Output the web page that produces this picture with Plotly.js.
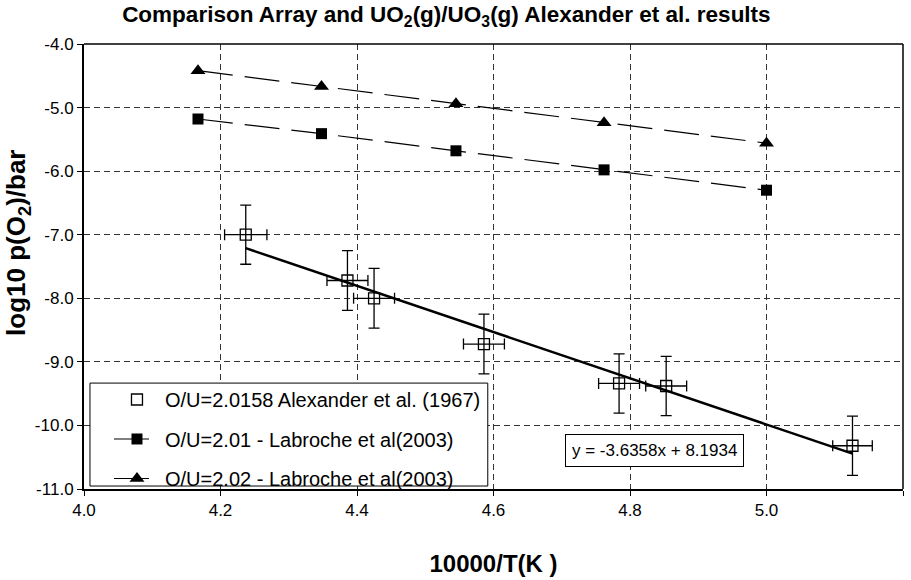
<!DOCTYPE html>
<html>
<head>
<meta charset="utf-8">
<script src="https://cdn.plot.ly/plotly-3.0.1.min.js"></script>
<style>html,body{margin:0;padding:0;background:#fff;}#chart{width:911px;height:580px;}</style>
</head>
<body>
<div id="chart"></div>
<script>
// ---- data ----
var alexX    = [4.237, 4.386, 4.425, 4.586, 4.784, 4.853, 5.126];
var alexY    = [-7.00, -7.72, -8.00, -8.72, -9.34, -9.38, -10.32];
var alexYErr = [0.465, 0.47, 0.47, 0.47, 0.465, 0.465, 0.465];
var alexXErr = [0.031, 0.030, 0.030, 0.030, 0.030, 0.030, 0.029];

var labX     = [4.167, 4.348, 4.545, 4.762, 5.000];
var lab201Y  = [-5.18, -5.41, -5.68, -5.98, -6.30];
var lab202Y  = [-4.42, -4.67, -4.94, -5.24, -5.56];

var fitSlope = -3.6358;
var fitIntercept = 8.1934;

var seriesNames = [
  'O/U=2.0158 Alexander et al. (1967)',
  'O/U=2.01 - Labroche et al(2003)',
  'O/U=2.02 - Labroche et al(2003)'
];
var xTickVals = [4.0, 4.2, 4.4, 4.6, 4.8, 5.0, 5.2];
var xTickText = ['4.0', '4.2', '4.4', '4.6', '4.8', '5.0', '5.2'];
var yTickVals = [-11, -10, -9, -8, -7, -6, -5, -4];
var yTickText = ['-11.0', '-10.0', '-9.0', '-8.0', '-7.0', '-6.0', '-5.0', '-4.0'];
var equationText = 'y = -3.6358x + 8.1934';
var titleText = 'Comparison Array and UO<sub>2</sub>(g)/UO<sub>3</sub>(g) Alexander et al. results';
var xTitle = '10000/T(K )';
var yTitle = 'log10 p(O<sub>2</sub>)/bar';

// ---- trendline from the chart's own equation ----
var fitX = [Math.min.apply(null, alexX), Math.max.apply(null, alexX)];
var fitY = fitX.map(function (x) { return fitSlope * x + fitIntercept; });

var FONT = 'Liberation Sans, Arial, Helvetica, sans-serif';

var traces = [
  {
    x: fitX, y: fitY, mode: 'lines', showlegend: false, hoverinfo: 'skip',
    line: {color: '#000', width: 2.5}
  },
  {
    x: alexX, y: alexY, mode: 'markers', name: seriesNames[0], legendgroup: 'a',
    marker: {symbol: 'square-open', size: 11, color: '#000', line: {width: 1.3, color: '#000'}},
    error_y: {type: 'data', array: alexYErr, visible: true, color: '#000', thickness: 1.3, width: 5.5},
    error_x: {type: 'data', array: alexXErr, visible: true, color: '#000', thickness: 1.3, width: 5.5}
  },
  {
    x: labX, y: lab201Y, mode: 'lines+markers', name: seriesNames[1], legendgroup: 'b',
    line: {color: '#000', width: 1.2, dash: '35px,12px'},
    marker: {symbol: 'square', size: 11, color: '#000'}
  },
  {
    x: labX, y: lab202Y, mode: 'lines+markers', name: seriesNames[2], legendgroup: 'c',
    line: {color: '#000', width: 1.2, dash: '35px,12px'},
    marker: {symbol: 'triangle-up', size: 13, color: '#000'}
  }
];

var layout = {
  width: 911, height: 580,
  margin: {l: 84, r: 8, t: 44, b: 91},
  paper_bgcolor: '#fff', plot_bgcolor: '#fff',
  font: {family: FONT, color: '#000', size: 17},
  title: {
    text: titleText, x: 0.49, xanchor: 'center', y: 0.975, yanchor: 'middle',
    font: {family: FONT, size: 22.5, weight: 'bold', color: '#000'}
  },
  xaxis: {
    range: [4.0, 5.2], tickvals: xTickVals, ticktext: xTickText,
    showgrid: true, gridcolor: '#333', gridwidth: 1, griddash: '6px,4px',
    showline: true, linecolor: '#000', linewidth: 2,
    ticks: 'outside', ticklen: 5, tickwidth: 1, tickcolor: '#000',
    zeroline: false, tickfont: {size: 17},
    title: {text: xTitle, standoff: 36, font: {size: 24, weight: 'bold'}}
  },
  yaxis: {
    range: [-11, -4], tickvals: yTickVals, ticktext: yTickText,
    showgrid: true, gridcolor: '#333', gridwidth: 1, griddash: '6px,4px',
    showline: true, linecolor: '#000', linewidth: 2,
    ticks: 'outside', ticklen: 5, tickwidth: 1, tickcolor: '#000',
    zeroline: false, tickfont: {size: 17}
  },
  showlegend: true,
  legend: {
    x: 0.0305, xanchor: 'left', y: 0.245, yanchor: 'top',
    bgcolor: 'rgba(0,0,0,0)', borderwidth: 0, itemwidth: 46,
    font: {size: 20}, tracegroupgap: 10.5, traceorder: 'grouped'
  },
  shapes: [
    {type: 'rect', xref: 'paper', yref: 'paper', x0: 0.0073, x1: 0.493, y0: 0.0067, y1: 0.238,
     fillcolor: '#fff', line: {color: '#000', width: 1}, layer: 'above'},
    {type: 'line', xref: 'paper', yref: 'paper', x0: 0, x1: 1, y0: 1, y1: 1, line: {color: '#000', width: 1.5}},
    {type: 'line', xref: 'paper', yref: 'paper', x0: 1, x1: 1, y0: 0, y1: 1, line: {color: '#000', width: 1.5}}
  ],
  annotations: [
    {xref: 'x', yref: 'y', x: 4.836, y: -10.387, text: equationText, showarrow: false,
     font: {size: 17}, bgcolor: '#fff', bordercolor: '#000', borderwidth: 1, borderpad: 6},
    {xref: 'paper', yref: 'paper', x: -0.0806, y: 0.553, xanchor: 'center', yanchor: 'middle',
     text: yTitle, textangle: -90, showarrow: false,
     font: {size: 26, weight: 'bold'}}
  ]
};

Plotly.newPlot('chart', traces, layout, {staticPlot: true, displayModeBar: false});
</script>
</body>
</html>
